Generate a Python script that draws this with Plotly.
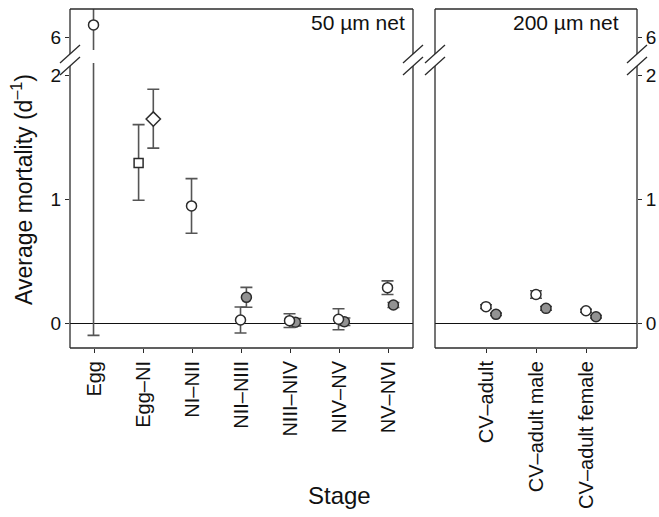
import plotly.graph_objects as go

# ---------------- data ----------------
stages_50 = ["Egg", "Egg–NI", "NI–NII", "NII–NIII", "NIII–NIV", "NIV–NV", "NV–NVI"]
stages_200 = ["CV–adult", "CV–adult male", "CV–adult female"]

# open circles, 50 um net (index into stages_50)
open_idx = [0, 2, 3, 4, 5, 6]
open_val = [6.55, 0.944, 0.024, 0.019, 0.030, 0.285]
open_err_plus = [3.0, 0.22, 0.105, 0.055, 0.085, 0.055]
open_err_minus = [6.65, 0.22, 0.105, 0.055, 0.085, 0.055]

# Egg–NI square and diamond
sq_val, sq_plus, sq_minus = [1.29], [0.31], [0.30]
dia_val, dia_plus, dia_minus = [1.645], [0.24], [0.235]

# grey circles, 50 um net
grey_idx = [3, 4, 5, 6]
grey_val = [0.207, 0.006, 0.010, 0.145]
grey_err = [0.08, 0.03, 0.03, 0.02]

# 200 um net
cv_open_val = [0.132, 0.230, 0.099]
cv_open_err = [0.015, 0.030, 0.012]
cv_grey_val = [0.070, 0.118, 0.050]
cv_grey_err = [0.010, 0.015, 0.010]

# ---------------- layout helpers ----------------
W, H = 659, 517
def px(x):
    return x / W
def py(y):
    return 1 - y / H

FONT = "Liberation Sans, Arial, Helvetica, sans-serif"
LINE = "#2b2b2b"
ERR = "#555555"
GREY = "#929292"

L0, L1 = 70, 413      # left panel
R0, R1 = 435, 637     # right panel
TOP, BOT = 9, 348
UP_BOT, LOW_TOP = 50, 63

fig = go.Figure()

def add(x, y, plus, minus, xa, ya, symbol, fill, size=10):
    fig.add_trace(go.Scatter(
        x=x, y=y, mode="markers", xaxis=xa, yaxis=ya, showlegend=False,
        hoverinfo="skip",
        marker=dict(symbol=symbol, size=size, color=fill, line=dict(color=LINE, width=1.5)),
        error_y=dict(type="data", symmetric=False, array=plus, arrayminus=minus,
                     color=ERR, thickness=1.6, width=6),
    ))

# draw in both the lower and upper segments of the broken axis
for ya in ("y", "y2"):
    add([i - 0.1 for i in [1]], sq_val, sq_plus, sq_minus, "x", ya, "square", "white", 9)
    add([i + 0.2 for i in [1]], dia_val, dia_plus, dia_minus, "x", ya, "diamond", "white", 11)
    add([i + 0.1 for i in grey_idx], grey_val, grey_err, grey_err, "x", ya, "circle", GREY)
    add([i - 0.02 for i in open_idx], open_val, open_err_plus, open_err_minus, "x", ya, "circle", "white")

for ya in ("y3", "y4"):
    add([0, 1, 2], cv_open_val, cv_open_err, cv_open_err, "x2", ya, "circle", "white")
    add([0.2, 1.2, 2.2], cv_grey_val, cv_grey_err, cv_grey_err, "x2", ya, "circle", GREY)

low_range = [(323 - BOT) / 124, (323 - LOW_TOP) / 124]
up_range = [6 - (UP_BOT - 37) / 22, 6 + (37 - TOP) / 22]

tickfont = dict(family=FONT, size=19, color="#111")
xtickfont = dict(family=FONT, size=20, color="#111")

common_y = dict(showgrid=False, showline=False, ticks="outside", ticklen=4,
                tickcolor=LINE, tickwidth=1, tickfont=tickfont)

fig.update_layout(
    width=W, height=H,
    margin=dict(l=0, r=0, t=0, b=0),
    paper_bgcolor="white", plot_bgcolor="white",
    font=dict(family=FONT, color="#111"),
    xaxis=dict(domain=[px(L0), px(L1)], range=[-0.5, 6.5], anchor="y",
               tickvals=list(range(len(stages_50))), ticktext=stages_50,
               tickangle=-90, showgrid=False, zeroline=False, showline=False,
               ticks="outside", ticklen=4, tickcolor=LINE, tickfont=xtickfont),
    xaxis2=dict(domain=[px(R0), px(R1)], range=[-1.02, 3.02], anchor="y3",
                tickvals=[0, 1, 2], ticktext=stages_200,
                tickangle=-90, showgrid=False, zeroline=False, showline=False,
                ticks="outside", ticklen=4, tickcolor=LINE, tickfont=xtickfont),
    yaxis=dict(domain=[py(BOT), py(LOW_TOP)], range=low_range, anchor="x",
               tickvals=[0, 1, 2], zeroline=True, zerolinecolor="#111", zerolinewidth=1.2,
               **common_y),
    yaxis2=dict(domain=[py(UP_BOT), py(TOP)], range=up_range, anchor="x",
                tickvals=[6], zeroline=False, **common_y),
    yaxis3=dict(domain=[py(BOT), py(LOW_TOP)], range=low_range, anchor="x2", side="right",
                tickvals=[0, 1, 2], zeroline=True, zerolinecolor="#111", zerolinewidth=1.2,
                **common_y),
    yaxis4=dict(domain=[py(UP_BOT), py(TOP)], range=up_range, anchor="x2", side="right",
                tickvals=[6], zeroline=False, **common_y),
)

shapes = []
def seg(x0, y0, x1, y1, w=1.3):
    shapes.append(dict(type="line", xref="paper", yref="paper",
                       x0=px(x0), y0=py(y0), x1=px(x1), y1=py(y1),
                       line=dict(color=LINE, width=w)))

B1, B2 = 54, 66   # break mark centres
for a, b in [(L0, L1), (R0, R1)]:
    seg(a, TOP, b, TOP)
    seg(a, BOT, b, BOT)
    for xs in (a, b):
        seg(xs, TOP, xs, B1)
        seg(xs, B2, xs, BOT)
        for yc in (B1, B2):
            seg(xs - 10, yc + 9, xs + 10, yc - 9)
fig.update_layout(shapes=shapes)

fig.add_annotation(text="50 µm net", xref="paper", yref="paper", x=px(407), y=py(23),
                   xanchor="right", yanchor="middle", showarrow=False,
                   font=dict(family=FONT, size=21, color="#111"))
fig.add_annotation(text="200 µm net", xref="paper", yref="paper", x=px(621), y=py(23),
                   xanchor="right", yanchor="middle", showarrow=False,
                   font=dict(family=FONT, size=21, color="#111"))
fig.add_annotation(text="Average mortality (d<sup>–1</sup>)", xref="paper", yref="paper",
                   x=px(22), y=py(190), textangle=-90, showarrow=False,
                   xanchor="center", yanchor="middle",
                   font=dict(family=FONT, size=23, color="#111"))
fig.add_annotation(text="Stage", xref="paper", yref="paper", x=px(339), y=py(495),
                   showarrow=False, xanchor="center", yanchor="middle",
                   font=dict(family=FONT, size=24, color="#111"))

fig.write_html("out.html",
               config={"displayModeBar": False},
               post_script="document.body.style.margin='0';document.body.style.overflow='hidden';")
